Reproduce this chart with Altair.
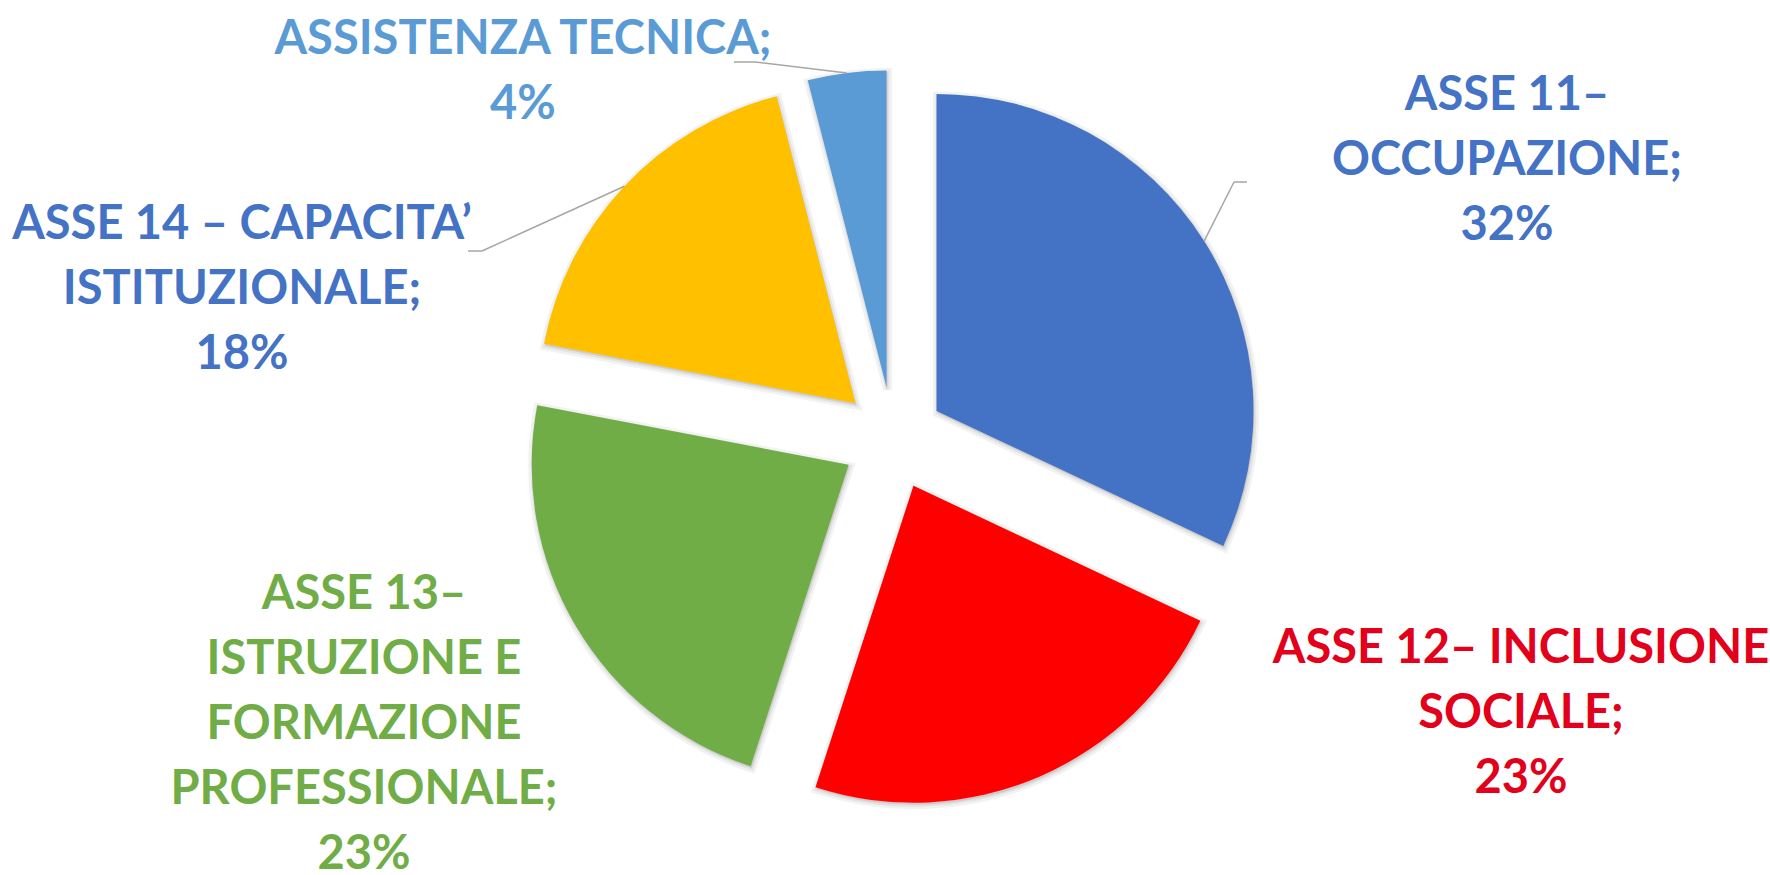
import altair as alt
import pandas as pd

# ---- data ----
names = [
    "ASSE 11– OCCUPAZIONE",
    "ASSE 12– INCLUSIONE SOCIALE",
    "ASSE 13– ISTRUZIONE E FORMAZIONE PROFESSIONALE",
    "ASSE 14 – CAPACITA’ ISTITUZIONALE",
    "ASSISTENZA TECNICA",
]
shares = [32, 23, 23, 18, 4]
label_lines = [
    ["ASSE 11–", "OCCUPAZIONE;"],
    ["ASSE 12– INCLUSIONE", "SOCIALE;"],
    ["ASSE 13–", "ISTRUZIONE E", "FORMAZIONE", "PROFESSIONALE;"],
    ["ASSE 14 – CAPACITA’", "ISTITUZIONALE;"],
    ["ASSISTENZA TECNICA;"],
]

# ---- styles ----
slice_colors = ["#4472C4", "#FF0000", "#70AD47", "#FFC000", "#5B9BD5"]
label_colors = ["#4472C4", "#E2001A", "#70AD47", "#4472C4", "#5B9BD5"]

# ---- layout (pixels) ----
W, H = 1770, 875
CX, CY = 893, 438.5
R = 317
EXPLODE = 51.5
LINE_H = 65
FONT_SIZE = 47
label_anchor_x = [1507, 1521, 364, 242, 523]
label_first_baseline = [110, 663, 609, 239, 54]
# leader lines: slice index -> (label end x, elbow x, y)
leaders = {0: (1247, 1234, 182), 3: (468, 482, 251), 4: (734, 755, 62)}

slices = pd.DataFrame({
    "name": names,
    "share": shares,
    "color": slice_colors,
    "order": list(range(len(names))),
})

base = (
    alt.Chart(slices)
    .transform_window(cum="sum(share)", sort=[alt.SortField("order")], frame=[None, 0])
    .transform_joinaggregate(total="sum(share)")
    .transform_calculate(
        t0="2*PI*(datum.cum - datum.share)/datum.total",
        t1="2*PI*datum.cum/datum.total",
    )
    .transform_calculate(mid="(datum.t0 + datum.t1)/2")
    .transform_calculate(
        cx=f"{CX} + {EXPLODE}*sin(datum.mid)",
        cy=f"{CY} - {EXPLODE}*cos(datum.mid)",
    )
)

enc = dict(
    x=alt.X("cx:Q", scale=None),
    y=alt.Y("cy:Q", scale=None),
    theta=alt.Theta("t0:Q", scale=None),
    theta2="t1:Q",
)

shadow_outer = base.mark_arc(
    outerRadius=R, fill="#000000", fillOpacity=0.05, stroke="#000000",
    strokeOpacity=0.05, strokeWidth=9, xOffset=1, yOffset=2,
).encode(**enc)
shadow_inner = base.mark_arc(
    outerRadius=R, fill="#000000", fillOpacity=0.05, stroke="#000000",
    strokeOpacity=0.06, strokeWidth=4, xOffset=1, yOffset=2,
).encode(**enc)

arcs = base.mark_arc(outerRadius=R).encode(
    fill=alt.Fill("color:N", scale=None), **enc
)

# leader lines
lead_df = pd.DataFrame({
    "name": [names[i] for i in leaders],
    "lx": [v[0] for v in leaders.values()],
    "ex": [v[1] for v in leaders.values()],
    "ly": [v[2] for v in leaders.values()],
})
lead_base = (
    base.transform_lookup(
        lookup="name",
        from_=alt.LookupData(lead_df, "name", ["lx", "ex", "ly"]),
    )
    .transform_filter("isValid(datum.ly)")
    .transform_calculate(
        px=f"datum.cx + {R}*sin(datum.mid)",
        py=f"datum.cy - {R}*cos(datum.mid)",
    )
)
lead1 = lead_base.mark_rule(color="#A6A6A6", strokeWidth=1.5).encode(
    x=alt.X("lx:Q", scale=None), x2="ex:Q", y=alt.Y("ly:Q", scale=None)
)
lead2 = lead_base.mark_rule(color="#A6A6A6", strokeWidth=1.5).encode(
    x=alt.X("ex:Q", scale=None), x2="px:Q",
    y=alt.Y("ly:Q", scale=None), y2="py:Q",
)

# labels
rows = []
for i, lines in enumerate(label_lines):
    all_lines = lines + [f"{shares[i]}%"]
    for j, t in enumerate(all_lines):
        rows.append({
            "text": t,
            "x": label_anchor_x[i],
            "y": label_first_baseline[i] + j * LINE_H,
            "color": label_colors[i],
        })
labels_df = pd.DataFrame(rows)
labels = alt.Chart(labels_df).mark_text(
    font="Lato", fontWeight="bold", fontSize=FONT_SIZE,
    align="center", baseline="alphabetic",
).encode(
    x=alt.X("x:Q", scale=None),
    y=alt.Y("y:Q", scale=None),
    text="text:N",
    color=alt.Color("color:N", scale=None),
)

chart = (
    alt.layer(shadow_outer, shadow_inner, arcs, lead1, lead2, labels)
    .properties(width=W, height=H, padding=0, autosize=alt.AutoSizeParams(type="none"),
                background="white")
    .configure_view(stroke=None)
)

chart.save("out.html", embed_options={"renderer": "svg", "actions": False})
